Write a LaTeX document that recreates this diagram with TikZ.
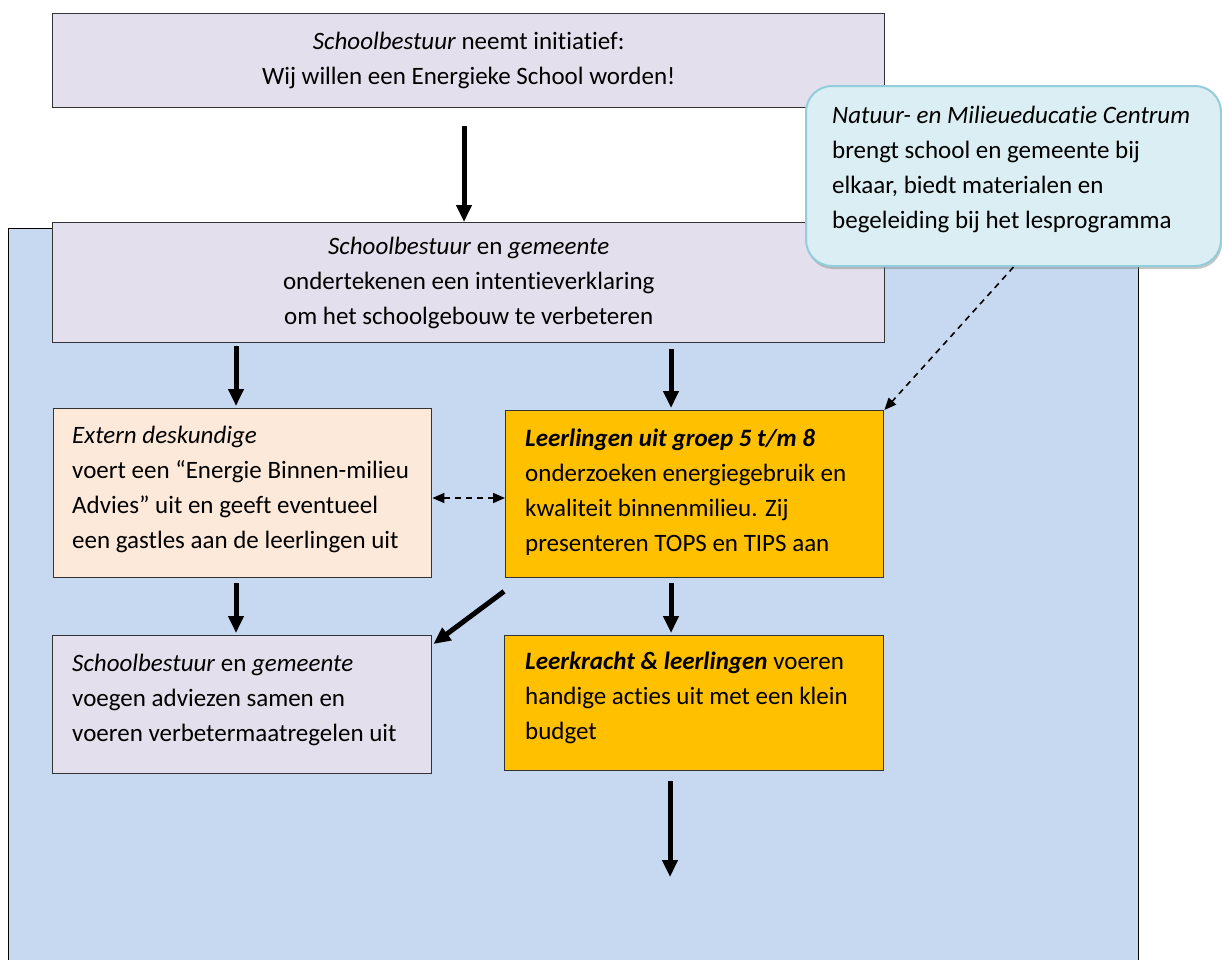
\documentclass[tikz,border=0pt]{standalone}
\usepackage{fontspec}
\setmainfont{Carlito}[Ligatures=NoCommon]
\usetikzlibrary{arrows.meta,shadows,calc}
\definecolor{bgblue}{HTML}{C6D9F1}
\definecolor{lav}{HTML}{E4DFEC}
\definecolor{peach}{HTML}{FDE9D9}
\definecolor{gold}{HTML}{FFC000}
\definecolor{callfill}{HTML}{DAEEF3}
\definecolor{callline}{HTML}{92CDDC}
\begin{document}
\begin{tikzpicture}[x=1pt,y=-1pt,
  box/.style={draw=black!80, line width=1.4pt, anchor=north west, inner sep=0pt},
  txt/.style={inner sep=0pt, font=\fontsize{25}{35}\selectfont},
  bigarrow/.style={line width=5pt, -{Triangle[width=15pt,length=17pt]}},
  dasharrow/.style={line width=1.6pt, dash pattern=on 6pt off 5pt, -{Triangle[width=10pt,length=12pt]}},
  dasharrows/.style={line width=1.6pt, dash pattern=on 6pt off 5pt, {Triangle[width=10pt,length=12pt]}-{Triangle[width=10pt,length=12pt]}}]
\useasboundingbox (0,0) rectangle (1222,959);
\fill[white] (0,0) rectangle (1222,959);
% background panel
\node[draw=black, line width=1pt, fill=bgblue, anchor=north west, inner sep=0pt, minimum width=1130pt, minimum height=760pt] (panel) at (8,228) {};
% boxes
\node[box, fill=lav, minimum width=832pt, minimum height=94pt] (top) at (52,13) {};
\node[box, fill=lav, minimum width=832pt, minimum height=120pt] (box2) at (52,222) {};
\node[box, fill=peach, minimum width=378pt, minimum height=169pt] (ext) at (53,408) {};
\node[box, fill=gold, minimum width=378pt, minimum height=167pt] (leer) at (505,410) {};
\node[box, fill=lav, minimum width=379pt, minimum height=138pt] (sb3) at (52,635) {};
\node[box, fill=gold, minimum width=379pt, minimum height=135pt] (lk) at (504,635) {};
\node[draw=callline, line width=2pt, fill=callfill, rounded corners=26pt, anchor=north west, inner sep=0pt, minimum width=415pt, minimum height=180pt,
  drop shadow={shadow xshift=1pt, shadow yshift=-3pt, opacity=0.45}] (call) at (805,85) {};
% texts
\node[txt, align=center] (ttop) at (top.center) {\textit{Schoolbestuur} neemt initiatief:\\Wij willen een Energieke School worden!};
\node[txt, align=center] (tbox2) at (box2.center) {\textit{Schoolbestuur} en \textit{gemeente}\\ondertekenen een intentieverklaring\\om het schoolgebouw te verbeteren};
\node[txt, align=left, anchor=north west] (tcall) at (832,106) {\textit{Natuur- en Milieueducatie Centrum}\\brengt school en gemeente bij\\elkaar, biedt materialen en\\begeleiding bij het lesprogramma};
\node[txt, align=left, anchor=north west] (text) at (72,426) {\textit{Extern deskundige}\\voert een “Energie Binnen-milieu\\Advies” uit en geeft eventueel\\een gastles aan de leerlingen uit};
\node[txt, align=left, anchor=north west] (tleer) at (525,429) {\textbf{\textit{Leerlingen uit groep 5 t/m 8}}\\onderzoeken energiegebruik en\\kwaliteit binnenmilieu. Zij\\presenteren TOPS en TIPS aan};
\node[txt, align=left, anchor=north west] (tsb3) at (72,654) {\textit{Schoolbestuur} en \textit{gemeente}\\voegen adviezen samen en\\voeren verbetermaatregelen uit};
\node[txt, align=left, anchor=north west] (tlk) at (525,652) {\textbf{\textit{Leerkracht \& leerlingen}} voeren\\handige acties uit met een klein\\budget};
% helper coordinates
\coordinate (xl) at (236,0);
\coordinate (xr) at (671,0);
\coordinate (xtop) at (464,0);
\coordinate (ydd) at (0,498);
\coordinate (endpt) at (670,877);
% connectors
\draw[bigarrow, shorten <=18pt] (top.south -| xtop) -- (box2.north -| xtop);
\draw[bigarrow, shorten <=3pt, shorten >=2pt] (box2.south -| xl) -- (ext.north -| xl);
\draw[bigarrow, shorten <=6pt, shorten >=2pt] (box2.south -| xr) -- (leer.north -| xr);
\draw[bigarrow, shorten <=5pt, shorten >=2pt] (ext.south -| xl) -- (sb3.north -| xl);
\draw[bigarrow, shorten <=5pt, shorten >=2pt] (leer.south -| xr) -- (lk.north -| xr);
\draw[bigarrow] ($(leer.south west)+(-1,13)$) -- ($(sb3.north east)+(1,9)$);
\draw[bigarrow, shorten <=10pt] (lk.south -| endpt) -- (endpt);
\draw[dasharrows] (ext.east |- ydd) -- (leer.west |- ydd);
\draw[dasharrow] (call.south) -- (leer.north east);
\end{tikzpicture}
\end{document}
